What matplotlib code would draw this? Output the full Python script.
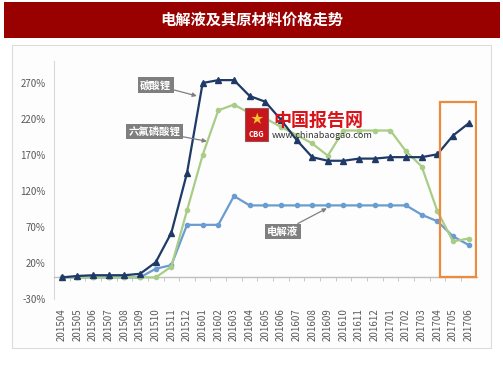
import matplotlib.pyplot as plt
from matplotlib.patches import Rectangle

plt.rcParams['font.family'] = ['Noto Sans CJK SC', 'DejaVu Sans']

# months on the category axis
months = ["201504", "201505", "201506", "201507", "201508", "201509", "201510",
          "201511", "201512", "201601", "201602", "201603", "201604", "201605",
          "201606", "201607", "201608", "201609", "201610", "201611", "201612",
          "201701", "201702", "201703", "201704", "201705", "201706"]

# price change vs 201504, in %
lithium_carbonate = [0, 2, 3, 3, 3, 5, 21, 62, 145, 270, 274, 274, 252, 244,
                     219, 191, 167, 162, 162, 165, 165, 167, 167, 167, 171, 197, 214]
lipf6 = [0, 0, 0, 0, 0, 0, 0, 15, 93, 170, 232, 240, 228, 221,
         209, 198, 186, 169, 204, 204, 204, 204, 175, 154, 92, 50, 54]
electrolyte = [0, 0, 0, 0, 0, 0, 12, 17, 73, 73, 73, 113, 100, 100,
               100, 100, 100, 100, 100, 100, 100, 100, 100, 87, 78, 57, 45]

y_ticks = [-30, 20, 70, 120, 170, 220, 270]

fig = plt.figure(figsize=(5.03, 3.78), dpi=100)

# title bar and card behind the chart
fig.patches.append(Rectangle((4 / 503, 340 / 378), 496 / 503, 36 / 378,
                             transform=fig.transFigure, facecolor="#990000",
                             edgecolor="none", zorder=-2))
fig.patches.append(Rectangle((12 / 503, 30 / 378), 479 / 503, 303 / 378,
                             transform=fig.transFigure, facecolor="#fdfdfd",
                             edgecolor="#dcdcdc", linewidth=0.8, zorder=-2))
fig.text(0.5, 358 / 378, "电解液及其原材料价格走势", color="white", fontsize=11,
         fontweight="bold", ha="center", va="center")

ax = fig.add_axes([54 / 503, 79 / 378, 422.5 / 503, 237.6 / 378])
ax.set_facecolor("none")
x = list(range(len(months)))

ax.plot(x, electrolyte, color="#6a9bd1", linewidth=1.6, marker="o",
        markersize=3, zorder=3)
ax.plot(x, lipf6, color="#a9cd86", linewidth=1.6, marker="o",
        markersize=3, zorder=3)
ax.plot(x, lithium_carbonate, color="#1f3a66", linewidth=1.6, marker="^",
        markersize=5, zorder=4)

ax.set_xlim(-0.5, len(months) - 0.5)
ax.set_ylim(-30, 300)
ax.set_yticks(y_ticks)
ax.set_yticklabels([f"{v}%" for v in y_ticks])
ax.set_xticks(x)
ax.set_xticklabels(months)
ax.set_xticks([i + 0.5 for i in x[:-1]] + [-0.5], minor=True)

for side in ["top", "right"]:
    ax.spines[side].set_visible(False)
ax.spines["left"].set_color("#d9d9d9")
ax.spines["bottom"].set_position(("data", 0))
ax.spines["bottom"].set_color("#bfbfbf")
ax.spines["bottom"].set_linewidth(1.0)
ax.tick_params(axis="y", length=0, labelsize=7, labelcolor="#595959", pad=6)
ax.tick_params(axis="x", which="major", length=0, labelsize=7,
               labelcolor="#595959", pad=22, labelrotation=90)
ax.tick_params(axis="x", which="minor", length=3, color="#bfbfbf", direction="out")

# highlight box on the last months
ax.add_patch(Rectangle((24.17, 0), 2.33, 244, fill=False, edgecolor="#ed8a3c",
                       linewidth=1.6, zorder=5))

box = dict(boxstyle="square,pad=0.25", facecolor="#7f7f7f", edgecolor="none")
arrow = dict(arrowstyle="-|>", color="#7f7f7f", lw=0.9, mutation_scale=6,
             shrinkA=0, shrinkB=0)
ax.annotate("碳酸锂", xy=(8.63, 252), xytext=(6.0, 267), color="white",
            fontsize=7.5, fontweight="bold", ha="center", va="center",
            bbox=box, arrowprops=arrow, zorder=6)
ax.annotate("六氟磷酸锂", xy=(9.27, 189), xytext=(5.9, 203), color="white",
            fontsize=7.5, fontweight="bold", ha="center", va="center",
            bbox=box, arrowprops=arrow, zorder=6)
ax.annotate("电解液", xy=(16.94, 96), xytext=(14.13, 64), color="white",
            fontsize=7.5, fontweight="bold", ha="center", va="center",
            bbox=box, arrowprops=arrow, zorder=6)

# watermark
fig.patches.append(Rectangle((245 / 503, (378 - 141) / 378), 23 / 503, 33 / 378,
                             transform=fig.transFigure, facecolor="#c8161d",
                             edgecolor="#9a5050", linewidth=0.8, zorder=5))
fig.text(256.5 / 503, (378 - 120) / 378, "★", color="#f2c230", fontsize=9,
         ha="center", va="center", zorder=6)
fig.text(256.5 / 503, (378 - 135) / 378, "CBG", color="white", fontsize=5.5,
         fontweight="bold", ha="center", va="center", zorder=6)
fig.text(273 / 503, (378 - 120) / 378, "中国报告网", color="#d7141a", fontsize=13,
         fontweight="bold", ha="left", va="center", zorder=6)
fig.text(272 / 503, (378 - 136) / 378, "www.chinabaogao.com", color="#333333",
         fontsize=6.5, ha="left", va="center", zorder=6)

fig.savefig("out.png", dpi=100)
